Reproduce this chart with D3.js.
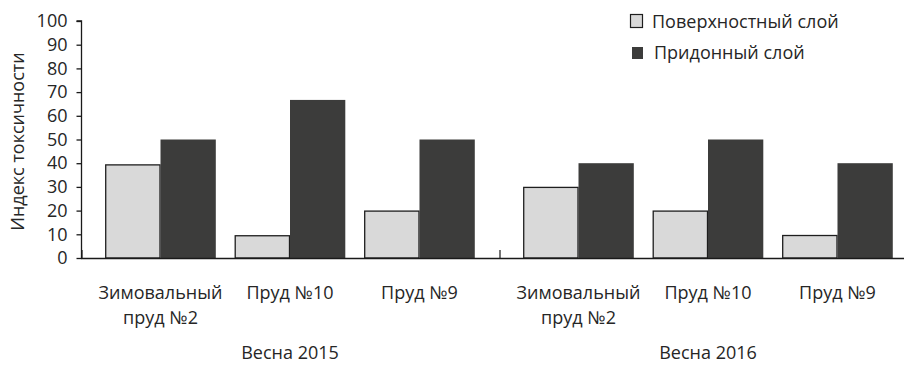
<!DOCTYPE html>
<html>
<head>
<meta charset="utf-8">
<script src="https://cdn.jsdelivr.net/npm/d3@7"></script>
<style>
  html, body { margin: 0; padding: 0; background: #fff; }
  svg text { font-family: "Open Sans", "Noto Sans", sans-serif; fill: #262626; }
</style>
</head>
<body>
<svg id="chart" width="904" height="371"></svg>
<script>
const periods = ["Весна 2015", "Весна 2016"];
const places = ["Зимовальный пруд №2", "Пруд №10", "Пруд №9"];
const placeLines = [["Зимовальный", "пруд №2"], ["Пруд №10"], ["Пруд №9"]];
const seriesNames = ["Поверхностный слой", "Придонный слой"];
const surface2015 = [39.5, 9.6, 20];
const bottom2015 = [50, 66.7, 50];
const surface2016 = [30, 20, 9.7];
const bottom2016 = [40, 50, 40];
const yTicks = [0, 10, 20, 30, 40, 50, 60, 70, 80, 90, 100];

const data = [];
periods.forEach((p, pi) => {
  const s = pi === 0 ? surface2015 : surface2016;
  const b = pi === 0 ? bottom2015 : bottom2016;
  places.forEach((pl, i) => {
    data.push({ period: p, place: pl, series: seriesNames[0], value: s[i] });
    data.push({ period: p, place: pl, series: seriesNames[1], value: b[i] });
  });
});

const svg = d3.select("#chart");
const axisX = 81, baseY = 258, topY = 21;

const y = d3.scaleLinear().domain([0, 100]).range([baseY, topY]);
const x0 = d3.scaleBand().domain(periods).range([axisX, 917]).padding(0);
const x1 = d3.scaleBand().domain(places).range([0, x0.bandwidth()]).paddingInner(0.146).paddingOuter(0.187);
const x2 = d3.scaleBand().domain(seriesNames).range([0, x1.bandwidth()]);

const fills = { [seriesNames[0]]: "#d9d9d9", [seriesNames[1]]: "#3c3c3b" };
const strokes = { [seriesNames[0]]: "#1e1e1e", [seriesNames[1]]: "none" };

// bars
svg.append("g").selectAll("rect").data(data).join("rect")
  .attr("x", d => x0(d.period) + x1(d.place) + x2(d.series) + (d.series === seriesNames[0] ? 0.5 : 0))
  .attr("y", d => y(d.value) + (d.series === seriesNames[0] ? 0.5 : 0))
  .attr("width", d => x2.bandwidth() - (d.series === seriesNames[0] ? 1 : 0))
  .attr("height", d => baseY - y(d.value) - (d.series === seriesNames[0] ? 0.5 : 0))
  .attr("fill", d => fills[d.series])
  .attr("stroke", d => strokes[d.series])
  .attr("stroke-width", 1.3);

// y axis
const yAxis = d3.axisLeft(y).tickValues(yTicks).tickSize(5).tickPadding(9);
const gy = svg.append("g").attr("transform", `translate(${axisX + 0.5},0)`).call(yAxis);
gy.select(".domain").attr("stroke", "#1a1a1a").attr("stroke-width", 1.3).attr("d", `M-5,${y(100)}H0V${baseY}`);
gy.selectAll(".tick line").attr("stroke", "#1a1a1a").attr("stroke-width", 1.3);
gy.selectAll(".tick text").style("font-size", "18px").attr("fill", "#262626")
  .style("font-family", "'Open Sans', sans-serif");

// x axis baseline
svg.append("line").attr("x1", axisX).attr("x2", 904).attr("y1", baseY + 0.5).attr("y2", baseY + 0.5)
  .attr("stroke", "#1a1a1a").attr("stroke-width", 1.3);
// group separator ticks
const seps = periods.map(p => x0(p)).concat([x0(periods[1]) + x0.bandwidth()]);
svg.append("g").selectAll("line").data(seps).join("line")
  .attr("x1", d => d + 1).attr("x2", d => d + 1)
  .attr("y1", baseY - 8).attr("y2", baseY)
  .attr("stroke", "#1a1a1a").attr("stroke-width", 1.2);

// category labels
const catG = svg.append("g");
periods.forEach(p => {
  places.forEach((pl, i) => {
    const cx = x0(p) + x1(pl) + x1.bandwidth() / 2;
    const t = catG.append("text").attr("text-anchor", "middle").style("font-size", "18px");
    placeLines[i].forEach((ln, k) => {
      t.append("tspan").attr("x", cx).attr("y", 299 + k * 25).text(ln);
    });
  });
  // period label, centered under middle category
  svg.append("text").attr("text-anchor", "middle").style("font-size", "18px")
    .attr("x", x0(p) + x0.bandwidth() / 2).attr("y", 359).text(p);
});

// y title
svg.append("text").attr("text-anchor", "middle").style("font-size", "18px")
  .attr("transform", `translate(24,${(y(0) + y(100)) / 2 + 2}) rotate(-90)`)
  .text("Индекс токсичности");

// legend
const leg = svg.append("g").attr("transform", "translate(630,13)");
seriesNames.forEach((s, i) => {
  const g = leg.append("g").attr("transform", `translate(0,${i * 31})`);
  g.append("rect").attr("x", i === 0 ? 0.5 : 2).attr("y", i === 0 ? 1.5 : 3)
    .attr("width", i === 0 ? 12 : 11).attr("height", i === 0 ? 13 : 12)
    .attr("fill", fills[s]).attr("stroke", i === 0 ? "#1e1e1e" : "none").attr("stroke-width", 1.2);
  g.append("text").attr("x", i === 0 ? 22 : 24).attr("y", 15).style("font-size", "18px").text(s);
});
</script>
</body>
</html>
